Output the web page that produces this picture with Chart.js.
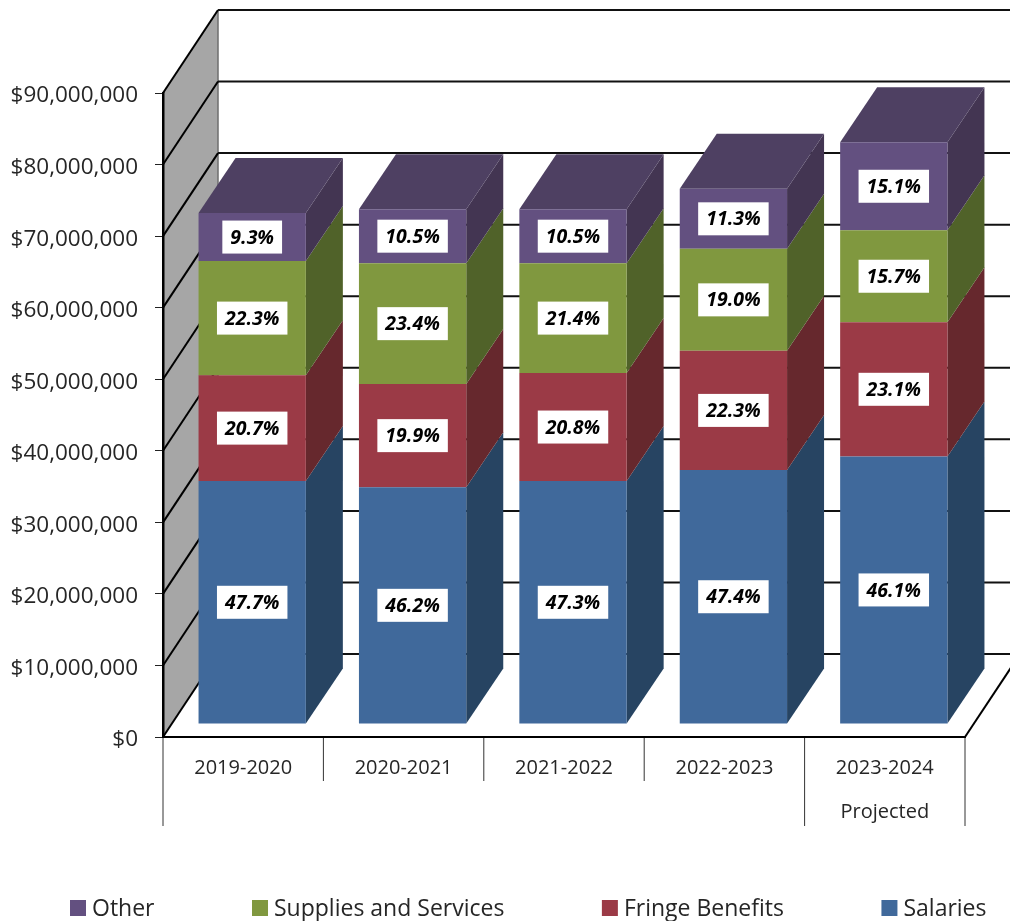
<!DOCTYPE html>
<html>
<head>
<meta charset="utf-8">
<style>html,body{margin:0;padding:0;background:#fff;overflow:hidden}canvas{display:block}</style>
<script src="https://cdn.jsdelivr.net/npm/chart.js@4"></script>
</head>
<body>
<canvas id="c" width="1010" height="921"></canvas>
<script>
const categories = ['2019-2020','2020-2021','2021-2022','2022-2023','2023-2024'];
const categoryNotes = ['','','','','Projected'];
const seriesNames = ['Salaries','Fringe Benefits','Supplies and Services','Other'];
const salaries = [33950000,33100000,33950000,35500000,37400000];
const fringe   = [14800000,14400000,15100000,16650000,18750000];
const supplies = [15950000,16900000,15350000,14250000,12850000];
const other    = [6700000,7550000,7550000,8400000,12300000];
const salariesPct = ['47.7%','46.2%','47.3%','47.4%','46.1%'];
const fringePct   = ['20.7%','19.9%','20.8%','22.3%','23.1%'];
const suppliesPct = ['22.3%','23.4%','21.4%','19.0%','15.7%'];
const otherPct    = ['9.3%','10.5%','10.5%','11.3%','15.1%'];
const frontColors = ['#40699b','#9b3a46','#80983f','#635080'];
const sideColors  = ['#274462','#66282d','#506229','#433552'];
const topColor = '#4e4062';
const pctBySeries = [salariesPct,fringePct,suppliesPct,otherPct];
const seriesValues = [salaries,fringe,supplies,other];

const WALL = {dx:55, dy:-83};
const BAR_SHIFT = {dx:9, dy:-13};
const BAR_DEPTH = {dx:37, dy:-55};
const LEGEND = {x:70, y:909.5, box:16, textGap:22, gap:97.5, size:23};
const textColor = '#262626';
const baseFont = '"Open Sans"';

function line(ctx,x1,y1,x2,y2,w,c){ctx.beginPath();ctx.moveTo(x1,y1);ctx.lineTo(x2,y2);ctx.lineWidth=w;ctx.strokeStyle=c;ctx.stroke();}
function poly(ctx,pts,c){ctx.beginPath();pts.forEach((p,i)=>i?ctx.lineTo(p[0],p[1]):ctx.moveTo(p[0],p[1]));ctx.closePath();ctx.fillStyle=c;ctx.fill();}

const box3d = {
  id:'box3d',
  beforeDraw(chart){
    const {ctx,scales:{x,y}} = chart;
    const L=x.left,R=x.right,T=y.getPixelForValue(y.max),B=y.getPixelForValue(0);
    ctx.save();
    poly(ctx,[[L,T],[L+WALL.dx,T+WALL.dy],[L+WALL.dx,B+WALL.dy],[L,B]],'#a6a6a6');
    line(ctx,L+WALL.dx,T+WALL.dy,L+WALL.dx,B+WALL.dy,1.5,'#6e6e6e');
    y.ticks.forEach(t=>{
      const py=y.getPixelForValue(t.value);
      line(ctx,L,py,L+WALL.dx,py+WALL.dy,2,'#000');
      line(ctx,L+WALL.dx,py+WALL.dy,R+WALL.dx,py+WALL.dy,2,'#111');
    });
    line(ctx,R,B,R+WALL.dx,B+WALL.dy,2,'#000');
    // multi-level category separators
    const n=categories.length, step=(R-L)/n;
    for(let i=0;i<=n;i++){
      const px=L+step*i;
      const outer=(i===0||i===n||categoryNotes[i]!=='');
      line(ctx,px,B,px,B+(outer?89:44),1,'#333');
    }
    // legend (reverse series order, wide even gaps)
    ctx.font=LEGEND.size+'px '+baseFont;
    ctx.textBaseline='middle';ctx.textAlign='left';
    let lx=LEGEND.x;
    for(let i=seriesNames.length-1;i>=0;i--){
      ctx.fillStyle=frontColors[i];
      ctx.fillRect(lx,LEGEND.y-LEGEND.box/2-1.5,LEGEND.box,LEGEND.box);
      ctx.fillStyle=textColor;
      ctx.fillText(seriesNames[i],lx+LEGEND.textGap,LEGEND.y);
      lx+=LEGEND.textGap+ctx.measureText(seriesNames[i]).width+LEGEND.gap;
    }
    ctx.restore();
  },
  beforeDatasetsDraw(chart){
    const ctx=chart.ctx;
    ctx.save();
    ctx.translate(BAR_SHIFT.dx,BAR_SHIFT.dy);
    const last=chart.data.datasets.length-1;
    chart.data.datasets.forEach((ds,di)=>{
      chart.getDatasetMeta(di).data.forEach(b=>{
        const r=b.x+b.width/2,l=b.x-b.width/2,t=b.y,bm=b.base;
        poly(ctx,[[r,t],[r+BAR_DEPTH.dx,t+BAR_DEPTH.dy],[r+BAR_DEPTH.dx,bm+BAR_DEPTH.dy],[r,bm]],sideColors[di]);
        if(di===last) poly(ctx,[[l,t],[l+BAR_DEPTH.dx,t+BAR_DEPTH.dy],[r+BAR_DEPTH.dx,t+BAR_DEPTH.dy],[r,t]],topColor);
      });
    });
  },
  afterDatasetsDraw(chart){
    const ctx=chart.ctx;
    ctx.restore();
    ctx.save();
    ctx.font='italic bold 19.5px '+baseFont;
    ctx.textAlign='center';ctx.textBaseline='middle';
    chart.data.datasets.forEach((ds,di)=>{
      chart.getDatasetMeta(di).data.forEach((b,i)=>{
        const cx=b.x+BAR_SHIFT.dx, cy=(b.y+b.base)/2+BAR_SHIFT.dy;
        const txt=pctBySeries[di][i], w=ctx.measureText(txt).width+16, h=33;
        ctx.fillStyle='#fff';ctx.fillRect(cx-w/2,cy-h/2,w,h);
        ctx.fillStyle='#000';ctx.fillText(txt,cx,cy+1);
      });
    });
    ctx.restore();
  }
};

new Chart(document.getElementById('c'),{
  type:'bar',
  data:{
    labels:categories.map((c,i)=>categoryNotes[i]?[c,categoryNotes[i]]:c),
    datasets:seriesNames.map((name,i)=>({
      label:name,data:seriesValues[i],backgroundColor:frontColors[i],borderWidth:0,clip:false,
      barPercentage:0.669,categoryPercentage:1
    }))
  },
  plugins:[box3d],
  options:{
    responsive:false,animation:false,devicePixelRatio:1,
    layout:{padding:{left:0,top:93,right:45,bottom:0}},
    plugins:{tooltip:{enabled:false},legend:{display:false}},
    scales:{
      x:{
        stacked:true,
        grid:{display:false},
        border:{display:true,color:'#000',width:2},
        ticks:{maxRotation:0,autoSkip:false,padding:1,color:textColor,font:{family:baseFont,size:20,lineHeight:44/20}},
        afterFit(s){s.height=184;s.paddingLeft=0;s.paddingRight=0;}
      },
      y:{
        stacked:true,min:0,max:90000000,
        grid:{drawOnChartArea:false,drawTicks:true,tickLength:8,color:'#222'},
        border:{display:true,color:'#000',width:2.5},
        ticks:{stepSize:10000000,padding:17,color:textColor,font:{family:baseFont,size:22.5,lineHeight:'6px'},
          callback:v=>['','$'+Number(v).toLocaleString('en-US')]},
        afterFit(s){s.width=163;s.paddingTop=0;s.paddingBottom=0;}
      }
    }
  }
});
</script>
</body>
</html>
